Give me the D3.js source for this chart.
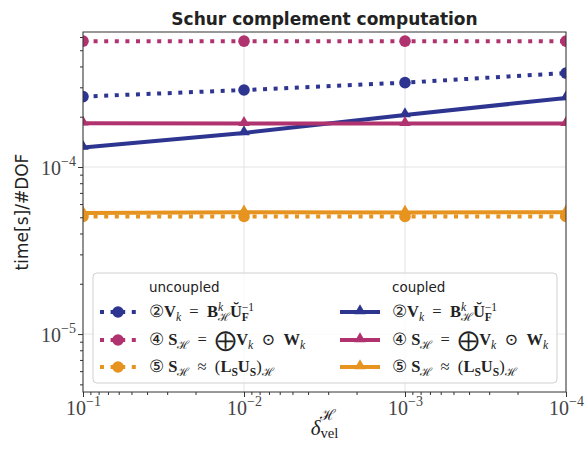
<!DOCTYPE html>
<html>
<head>
<meta charset="utf-8">
<script src="https://cdn.jsdelivr.net/npm/d3@7"></script>
<style>
  body { margin: 0; background: #fff; }
  svg { display: block; }
</style>
</head>
<body>
<div id="chart"></div>
<script>
// values
var deltas = [1e-1, 1e-2, 1e-3, 1e-4];
var unc2 = [2.64e-4, 2.89e-4, 3.20e-4, 3.65e-4];
var unc4 = [5.67e-4, 5.67e-4, 5.67e-4, 5.67e-4];
var unc5 = [5.06e-5, 5.06e-5, 5.06e-5, 5.06e-5];
var cpl2 = [1.31e-4, 1.60e-4, 2.05e-4, 2.59e-4];
var cpl4 = [1.83e-4, 1.82e-4, 1.82e-4, 1.82e-4];
var cpl5 = [5.30e-5, 5.36e-5, 5.34e-5, 5.36e-5];

var xMajor = [1e-1, 1e-2, 1e-3, 1e-4];
var xExp = ["\u22121", "\u22122", "\u22123", "\u22124"];
var yMajor = [1e-5, 1e-4];
var yExp = ["\u22125", "\u22124"];

var groupTitles = ["uncoupled", "coupled"];
var labels = [
  "\u2461\\b{V}_{\\i{k}}\u2002=\u2002\\b{B}^{\\i{k}}_{\u210B}\\b{\u016C}^{\u22121}_{\\b{F}}",
  "\u2463 \\b{S}_{\u210B}\u2002=\u2002\\l{\u2A01}\\b{V}_{\\i{k}}\u2002\u2299\u2002\\b{W}_{\\i{k}}",
  "\u2464 \\b{S}_{\u210B}\u2002\u2248\u2002(\\b{L}_{\\b{S}}\\b{U}_{\\b{S}})_{\u210B}"
];
var colors = ["#2d3591", "#b0336f", "#e6931f"];

var series = [
  {values: unc2, c: 0, coupled: false},
  {values: unc4, c: 1, coupled: false},
  {values: unc5, c: 2, coupled: false},
  {values: cpl2, c: 0, coupled: true},
  {values: cpl4, c: 1, coupled: true},
  {values: cpl5, c: 2, coupled: true}
];

var W = 586, H = 449;
var margin = {top: 32, right: 20, bottom: 57, left: 83};
var width = W - margin.left - margin.right,
    height = H - margin.top - margin.bottom;

var mathFont = "'Liberation Serif', 'DejaVu Serif', serif";
var sansFont = "'DejaVu Sans', sans-serif";

var svg = d3.select("#chart").append("svg")
    .attr("width", W)
    .attr("height", H);

var g = svg.append("g")
    .attr("transform", "translate(" + margin.left + "," + margin.top + ")");

var x = d3.scaleLog().domain([1e-1, 1e-4]).range([0, width]);
var y = d3.scaleLog().domain([4.5e-6, 6.43e-4]).range([height, 0]);

// grid
g.append("g").selectAll("line")
    .data(xMajor).enter().append("line")
    .attr("x1", function(d) { return x(d); })
    .attr("x2", function(d) { return x(d); })
    .attr("y1", 0).attr("y2", height)
    .attr("stroke", "#e3e3e3").attr("stroke-width", 1);
g.append("g").selectAll("line")
    .data(yMajor).enter().append("line")
    .attr("y1", function(d) { return y(d); })
    .attr("y2", function(d) { return y(d); })
    .attr("x1", 0).attr("x2", width)
    .attr("stroke", "#e3e3e3").attr("stroke-width", 1);

// ticks
var xMinor = x.ticks().filter(function(d) { return xMajor.indexOf(d) < 0; });
var yMinor = y.ticks().filter(function(d) { return yMajor.indexOf(d) < 0; });

function styleAxis(a) {
  a.select(".domain").remove();
  a.selectAll(".tick line").attr("stroke", "#333").attr("stroke-width", 1);
}
g.append("g").attr("transform", "translate(0," + height + ")")
    .call(d3.axisBottom(x).tickValues(xMinor).tickSize(3).tickFormat(""))
    .call(styleAxis);
g.append("g")
    .call(d3.axisLeft(y).tickValues(yMinor).tickSize(3).tickFormat(""))
    .call(styleAxis);

var xAx = g.append("g").attr("transform", "translate(0," + height + ")")
    .call(d3.axisBottom(x).tickValues(xMajor).tickSize(5).tickFormat(""))
    .call(styleAxis);
var yAx = g.append("g")
    .call(d3.axisLeft(y).tickValues(yMajor).tickSize(5).tickFormat(""))
    .call(styleAxis);

function powerLabel(t, exp) {
  t.attr("font-family", mathFont).attr("fill", "#444").attr("font-size", 20);
  t.append("tspan").text("10");
  t.append("tspan").attr("font-size", 14).attr("dy", -9).text(exp);
}
xAx.selectAll(".tick").each(function(d, i) {
  var t = d3.select(this).append("text")
      .attr("y", 23).attr("text-anchor", "middle").attr("dy", 0);
  powerLabel(t, xExp[i]);
});
yAx.selectAll(".tick").each(function(d, i) {
  var t = d3.select(this).append("text")
      .attr("x", -7).attr("y", 7).attr("text-anchor", "end");
  powerLabel(t, yExp[i]);
});

// lines
g.append("clipPath").attr("id", "plotclip")
  .append("rect").attr("width", width).attr("height", height);
var plot = g.append("g").attr("clip-path", "url(#plotclip)");

var line = d3.line()
    .x(function(d, i) { return x(deltas[i]); })
    .y(function(d) { return y(d); });

var tri = d3.symbol().type(d3.symbolTriangle).size(58);

series.forEach(function(s) {
  var col = colors[s.c];
  plot.append("path")
      .datum(s.values)
      .attr("d", line)
      .attr("fill", "none")
      .attr("stroke", col)
      .attr("stroke-width", 4)
      .attr("stroke-dasharray", s.coupled ? null : "4,6.6");
  if (s.coupled) {
    plot.selectAll(null).data(s.values).enter().append("path")
        .attr("d", tri)
        .attr("transform", function(d, i) { return "translate(" + x(deltas[i]) + "," + (y(d) - 1) + ")"; })
        .attr("fill", col);
  } else {
    plot.selectAll(null).data(s.values).enter().append("circle")
        .attr("cx", function(d, i) { return x(deltas[i]); })
        .attr("cy", function(d) { return y(d); })
        .attr("r", 5.8)
        .attr("fill", col);
  }
});

// frame
g.append("rect")
    .attr("width", width).attr("height", height)
    .attr("fill", "none").attr("stroke", "#333").attr("stroke-width", 1);

// mini math markup: \b{..} bold, \i{..} italic, \l{..} large, ^{..} sup, _{..} sub
function closeBrace(s, open) {
  var depth = 0;
  for (var k = open; k < s.length; k++) {
    if (s[k] === "{") depth++;
    else if (s[k] === "}") { depth--; if (depth === 0) return k; }
  }
  return s.length;
}
function parseMath(str) {
  var out = [], gid = 0;
  function walk(s, st) {
    var i = 0, buf = "";
    function flush() {
      if (buf) { out.push(Object.assign({text: buf}, st)); buf = ""; }
    }
    while (i < s.length) {
      var c = s[i];
      if (c === "\\") {
        var cmd = s[i + 1], j = closeBrace(s, i + 2);
        flush();
        var ns = Object.assign({}, st);
        if (cmd === "b") ns.bold = true;
        else if (cmd === "l") ns.large = true;
        else ns.italic = true;
        walk(s.slice(i + 3, j), ns);
        i = j + 1;
      } else if (c === "^" || c === "_") {
        var j2 = closeBrace(s, i + 1);
        flush();
        gid++;
        walk(s.slice(i + 2, j2), Object.assign({}, st, {level: c === "^" ? "sup" : "sub", gid: gid}));
        i = j2 + 1;
      } else { buf += c; i++; }
    }
    flush();
  }
  walk(str, {level: "base", gid: 0});
  return out;
}
function renderMath(t, str, base, supOff, subOff) {
  var segs = parseMath(str);
  var cur = 0, prev = null, supW = 0, subW = 0, inStack = false;
  var offs = {base: 0, sup: supOff, sub: subOff};
  segs.forEach(function(s) {
    var fs = s.level === "base" ? base : base * 0.7;
    if (s.large) fs = base * 1.3;
    var ts = t.append("tspan")
        .attr("font-size", fs)
        .attr("font-weight", s.bold ? "bold" : null)
        .attr("font-style", s.italic ? "italic" : null)
        .text(s.text);
    var target = offs[s.level] + (s.large ? base * 0.12 : 0);
    if (target !== cur) { ts.attr("dy", target - cur); cur = target; }
    var dx = 0;
    if (s.level === "sub" && prev && prev.level === "sup" && prev.gid !== s.gid) {
      dx = -supW; inStack = true; subW = 0;
    } else if (s.level !== "sub" && inStack) {
      if (supW > subW) dx = supW - subW;
      inStack = false;
    }
    if (dx) ts.attr("dx", dx);
    var w = ts.node().getComputedTextLength();
    if (s.level === "sup") {
      if (prev && prev.level === "sup" && prev.gid === s.gid) supW += w; else supW = w;
    } else if (s.level === "sub" && inStack) subW += w;
    prev = s;
  });
}

// legend
var legend = svg.append("g");
legend.append("rect")
    .attr("x", 93).attr("y", 273).attr("width", 464).attr("height", 110)
    .attr("rx", 4)
    .attr("fill", "#fff").attr("fill-opacity", 0.8)
    .attr("stroke", "#d0d0d0").attr("stroke-width", 1);

var cols = [{hx: 100, tx: 149}, {hx: 340, tx: 392}];
var rowY = [312, 340, 367];
groupTitles.forEach(function(title, ci) {
  legend.append("text")
      .attr("x", cols[ci].tx).attr("y", 292)
      .attr("font-family", sansFont).attr("font-size", 13.5)
      .attr("fill", "#222")
      .text(title);
});
series.forEach(function(s) {
  var ci = s.coupled ? 1 : 0, col = colors[s.c], cy = rowY[s.c];
  var hx = cols[ci].hx, hl = s.coupled ? 40 : 36;
  legend.append("line")
      .attr("x1", hx).attr("x2", hx + hl)
      .attr("y1", cy).attr("y2", cy)
      .attr("stroke", col).attr("stroke-width", 4)
      .attr("stroke-dasharray", s.coupled ? null : "4,6.6");
  if (s.coupled) {
    legend.append("path").attr("d", tri)
        .attr("transform", "translate(" + (hx + hl / 2) + "," + (cy - 1) + ")")
        .attr("fill", col);
  } else {
    legend.append("circle").attr("cx", hx + hl / 2).attr("cy", cy)
        .attr("r", 5.8).attr("fill", col);
  }
  var t = legend.append("text")
      .attr("x", cols[ci].tx).attr("y", cy + 5)
      .attr("font-family", mathFont).attr("fill", "#222");
  renderMath(t, labels[s.c], 16.5, -6.5, 4);
});

// title and axis labels
svg.append("text")
    .attr("x", margin.left + width / 2).attr("y", 25)
    .attr("text-anchor", "middle")
    .attr("font-family", sansFont).attr("font-weight", "bold")
    .attr("font-size", 17).attr("fill", "#222")
    .text("Schur complement computation");

svg.append("text")
    .attr("transform", "translate(28," + (margin.top + height / 2) + ") rotate(-90)")
    .attr("text-anchor", "middle")
    .attr("font-family", sansFont).attr("font-size", 17).attr("fill", "#222")
    .text("time[s]/#DOF");

var xl = svg.append("text")
    .attr("x", margin.left + width / 2).attr("y", 435)
    .attr("text-anchor", "middle")
    .attr("font-family", mathFont).attr("fill", "#222");
renderMath(xl, "\\i{\u03B4}^{\u210B}_{vel}", 21, -15, 3);
</script>
</body>
</html>
